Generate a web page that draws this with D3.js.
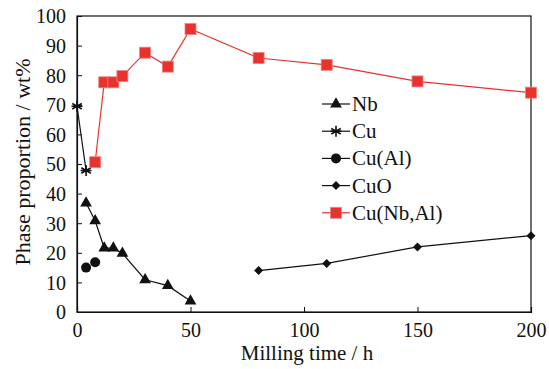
<!DOCTYPE html>
<html>
<head>
<meta charset="utf-8">
<script src="https://cdn.jsdelivr.net/npm/d3@7"></script>
<style>
  body { margin: 0; background: #fff; }
  text { font-family: "Liberation Serif", "Times New Roman", serif; fill: #111; }
</style>
</head>
<body>
<div id="chart"></div>
<script>
// data
const nbTime = [4, 8, 12, 16, 20, 30, 40, 50];
const nbVal = [36.8, 30.8, 21.6, 21.6, 19.8, 10.9, 8.9, 3.7];
const cuTime = [0, 4];
const cuVal = [69.5, 47.8];
const cuAlTime = [4, 8];
const cuAlVal = [15, 16.8];
const cuOTime = [80, 110, 150, 200];
const cuOVal = [14, 16.4, 22, 25.8];
const cuNbAlTime = [8, 12, 16, 20, 30, 40, 50, 80, 110, 150, 200];
const cuNbAlVal = [50.6, 77.6, 77.6, 79.7, 87.6, 82.9, 95.6, 85.8, 83.5, 77.9, 74.1];
const xTicks = [0, 50, 100, 150, 200];
const yTicks = [0, 10, 20, 30, 40, 50, 60, 70, 80, 90, 100];

const red = '#e8322e';
const series = [
  { name: 'Nb', t: nbTime, v: nbVal, marker: 'triangle', color: '#111', line: true },
  { name: 'Cu', t: cuTime, v: cuVal, marker: 'star', color: '#111', line: true },
  { name: 'Cu(Al)', t: cuAlTime, v: cuAlVal, marker: 'circle', color: '#111', line: false },
  { name: 'CuO', t: cuOTime, v: cuOVal, marker: 'diamond', color: '#111', line: true },
  { name: 'Cu(Nb,Al)', t: cuNbAlTime, v: cuNbAlVal, marker: 'square', color: red, line: true }
];

const W = 549, H = 369;
const margin = { top: 16, right: 18, bottom: 57, left: 77 };
const width = W - margin.left - margin.right;
const height = H - margin.top - margin.bottom;
const serif = '"Liberation Serif", "Times New Roman", serif';

const svg = d3.select('#chart').append('svg')
  .attr('width', W).attr('height', H);
const g = svg.append('g').attr('transform', `translate(${margin.left},${margin.top})`);

const x = d3.scaleLinear().domain([0, 200]).range([0, width]);
const y = d3.scaleLinear().domain([0, 100]).range([height, 0]);

// frame
g.append('rect').attr('width', width).attr('height', height)
  .attr('fill', 'none').attr('stroke', '#111').attr('stroke-width', 1.2);

const xAxis = g.append('g').attr('transform', `translate(0,${height})`)
  .call(d3.axisBottom(x).tickValues(xTicks).tickSize(-5).tickPadding(11));
const yAxis = g.append('g')
  .call(d3.axisLeft(y).tickValues(yTicks).tickSize(-5).tickPadding(11));
[xAxis, yAxis].forEach(a => {
  a.attr('font-family', serif).attr('font-size', 20);
  a.select('.domain').attr('stroke', '#111').attr('stroke-width', 1.2);
  a.selectAll('.tick line').attr('stroke', '#111');
  a.selectAll('text').style('font-size', '20px').style('font-family', serif).attr('fill', '#111');
});
yAxis.selectAll('text').attr('dy', '0.34em');

svg.append('text')
  .attr('x', 307).attr('y', 360)
  .attr('text-anchor', 'middle').style('font-size', '21px')
  .text('Milling time / h');
svg.append('text')
  .attr('transform', `translate(30,${margin.top + height / 2 - 2}) rotate(-90)`)
  .attr('text-anchor', 'middle').style('font-size', '22px')
  .text('Phase proportion / wt%');

function drawMarker(sel, type, color) {
  if (type === 'triangle') {
    sel.append('path').attr('d', d3.symbol(d3.symbolTriangle, 60)()).attr('fill', color);
  } else if (type === 'circle') {
    sel.append('circle').attr('r', 5).attr('fill', color);
  } else if (type === 'diamond') {
    sel.append('path').attr('d', 'M0,-4.5L4.5,0L0,4.5L-4.5,0Z').attr('fill', color);
  } else if (type === 'square') {
    sel.append('rect').attr('x', -5.5).attr('y', -5.5).attr('width', 11).attr('height', 11)
      .attr('fill', color).attr('stroke', '#f08080').attr('stroke-width', 0.8);
  } else if (type === 'star') {
    const r = 5.5;
    const p = [0, 60, 120].map(a => {
      const rad = a * Math.PI / 180;
      return `M${-r * Math.sin(rad)},${-r * Math.cos(rad)}L${r * Math.sin(rad)},${r * Math.cos(rad)}`;
    }).join('') + `M${-r},0L${r},0`;
    sel.append('path').attr('d', p).attr('stroke', color).attr('stroke-width', 1.6).attr('fill', 'none');
  }
}

const line = d3.line().x(d => x(d[0])).y(d => y(d[1]));

series.forEach(s => {
  const pts = s.t.map((t, i) => [t, s.v[i]]);
  if (s.line) {
    g.append('path').datum(pts).attr('d', line)
      .attr('fill', 'none').attr('stroke', s.color).attr('stroke-width', 1.2);
  }
  pts.forEach(p => {
    const m = g.append('g').attr('transform', `translate(${x(p[0])},${y(p[1])})`);
    drawMarker(m, s.marker, s.color);
  });
});

// legend
const leg = svg.append('g').attr('transform', 'translate(322,104)');
series.forEach((s, i) => {
  const row = leg.append('g').attr('transform', `translate(0,${i * 27.2})`);
  row.append('line').attr('x1', 0).attr('x2', 28).attr('y1', 0).attr('y2', 0)
    .attr('stroke', s.color).attr('stroke-width', 1.2);
  drawMarker(row.append('g').attr('transform', 'translate(14,0)'), s.marker, s.color);
  row.append('text').attr('x', 30).attr('y', 7).style('font-size', '21px').text(s.name);
});
</script>
</body>
</html>
